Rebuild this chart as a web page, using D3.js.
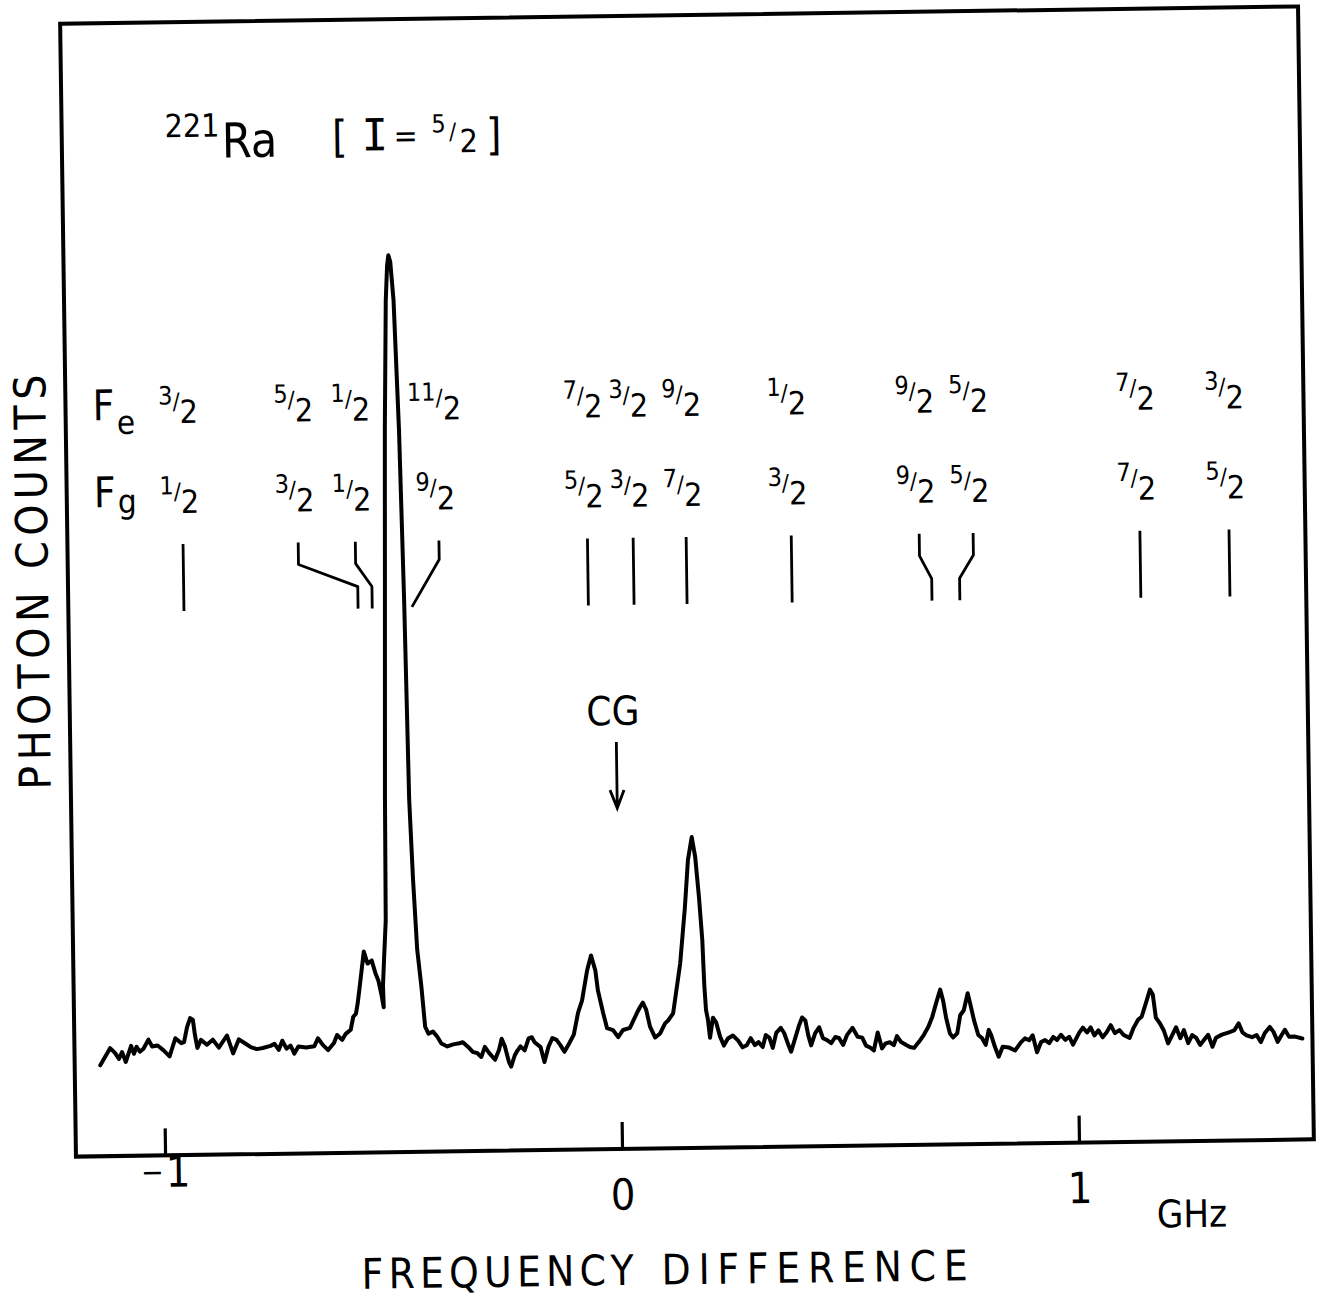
<!DOCTYPE html>
<html><head><meta charset="utf-8">
<script src="https://cdnjs.cloudflare.com/ajax/libs/d3/7.8.5/d3.min.js"></script>
<style>
html,body{margin:0;padding:0;background:#fff;}
svg{display:block;}
text{font-family:"DejaVu Sans Condensed","DejaVu Sans",sans-serif;font-stretch:condensed;fill:#000;}
</style></head><body>
<svg id="chart" width="1320" height="1299"></svg>
<script>
// ---- data ----
const freqGHz = [
-1.139,-1.117,-1.106,-1.098,-1.091,-1.083,-1.071,-1.065,-1.059,-1.052,
-1.044,-1.033,-1.025,-1.013,-1.000,-0.987,-0.974,-0.961,-0.955,-0.948,
-0.941,-0.935,-0.931,-0.926,-0.918,-0.905,-0.892,-0.879,-0.861,-0.853,
-0.848,-0.835,-0.822,-0.809,-0.796,-0.783,-0.766,-0.757,-0.748,-0.740,
-0.731,-0.722,-0.714,-0.705,-0.688,-0.670,-0.662,-0.651,-0.640,-0.627,
-0.620,-0.609,-0.601,-0.590,-0.584,-0.578,-0.574,-0.569,-0.559,-0.551,
-0.542,-0.534,-0.528,-0.521,-0.517,-0.518,-0.515,-0.510,-0.508,-0.502,
-0.497,-0.491,-0.487,-0.484,-0.480,-0.474,-0.466,-0.460,-0.455,-0.449,
-0.445,-0.442,-0.434,-0.427,-0.420,-0.410,-0.401,-0.392,-0.379,-0.366,
-0.353,-0.345,-0.333,-0.323,-0.314,-0.305,-0.297,-0.288,-0.275,-0.266,
-0.260,-0.253,-0.245,-0.240,-0.232,-0.227,-0.219,-0.210,-0.201,-0.194,
-0.188,-0.175,-0.167,-0.158,-0.149,-0.140,-0.132,-0.123,-0.114,-0.102,
-0.092,-0.083,-0.071,-0.062,-0.053,-0.048,-0.037,-0.029,-0.016,-0.005,
0.006,0.021,0.037,0.044,0.050,0.057,0.065,0.076,0.087,0.098,
0.105,0.116,0.133,0.145,0.153,0.162,0.169,0.176,0.182,0.185,
0.188,0.192,0.196,0.203,0.210,0.218,0.226,0.235,0.246,0.257,
0.267,0.276,0.285,0.294,0.302,0.311,0.318,0.326,0.333,0.341,
0.351,0.358,0.367,0.373,0.382,0.391,0.398,0.405,0.411,0.417,
0.426,0.435,0.443,0.452,0.461,0.470,0.478,0.487,0.496,0.508,
0.519,0.529,0.537,0.546,0.554,0.563,0.572,0.580,0.589,0.598,
0.605,0.614,0.625,0.633,0.642,0.653,0.664,0.674,0.683,0.692,
0.701,0.707,0.713,0.721,0.728,0.737,0.744,0.752,0.761,0.766,
0.774,0.783,0.791,0.799,0.806,0.811,0.819,0.827,0.836,0.850,
0.863,0.876,0.885,0.894,0.902,0.911,0.920,0.929,0.938,0.947,
0.955,0.964,0.973,0.982,0.990,1.004,1.012,1.021,1.029,1.037,
1.046,1.055,1.064,1.073,1.082,1.092,1.101,1.114,1.123,1.133,
1.141,1.151,1.160,1.166,1.172,1.181,1.189,1.198,1.207,1.216,
1.225,1.233,1.242,1.251,1.260,1.268,1.277,1.286,1.295,1.303,
1.316,1.330,1.343,1.353,1.361,1.370,1.382,1.392,1.401,1.410,
1.421,1.429,1.438,1.447,1.454,1.463,1.476,1.492];

const photonCounts = [
91,108,103,97,104,94,110,102,109,104,
107,116,109,110,105,99,117,112,113,128,
137,135,120,107,115,110,115,107,119,108,
101,115,111,107,105,106,108,110,104,113,
105,108,100,107,106,107,115,108,103,110,
118,113,119,123,136,139,149,166,201,189,
192,179,172,156,145,167,192,232,352,552,
722,852,887,897,890,852,722,552,352,272,
232,202,165,125,118,120,115,108,105,107,
108,109,104,99,98,94,104,98,91,101,
112,104,89,84,95,99,104,100,112,113,
108,103,88,103,112,110,105,98,105,115,
137,149,179,194,179,159,136,121,119,112,
119,121,136,142,146,139,122,111,115,125,
128,135,185,241,288,311,291,251,208,163,
138,128,110,130,125,111,102,109,112,107,
100,102,109,102,105,100,112,109,99,114,
119,114,102,95,108,121,129,126,111,101,
113,119,108,106,103,109,108,101,111,118,
109,108,100,98,95,113,97,102,103,100,
109,103,100,98,97,103,110,118,128,142,
155,144,127,111,107,111,129,134,151,141,
124,109,106,99,114,109,97,87,97,96,
93,101,105,103,108,91,101,103,100,106,
103,108,103,106,98,110,115,110,115,107,
112,105,110,117,109,112,107,104,114,122,
125,139,152,147,124,118,111,98,106,114,
103,111,98,106,103,96,101,106,94,103,
106,108,110,117,108,105,103,105,98,107,
113,108,98,105,110,103,103,101];

const xTickValues = [-1, 0, 1];
const xTickLabels = ["\u22121", "0", "1"];

const feLabels = ["3/2","5/2","1/2","11/2","7/2","3/2","9/2","1/2","9/2","5/2","7/2","3/2"];
const fgLabels = ["1/2","3/2","1/2","9/2","5/2","3/2","7/2","3/2","9/2","5/2","7/2","5/2"];
// label / top of marker (GHz) and position of the transition at the marker foot (GHz)
const markerTopGHz  = [-0.942,-0.690,-0.565,-0.382,-0.057,0.043,0.159,0.389,0.669,0.787,1.152,1.347];
const markerLineGHz = [-0.944,-0.561,-0.530,-0.443,-0.058,0.043,0.159,0.389,0.695,0.756,1.153,1.347];
const cgGHz = 0;

// ---- scales ----
const x = d3.scaleLinear().domain([-1.195, 1.514]).range([68, 1306]);
const y = d3.scaleLinear().domain([0, 1133]).range([1148, 15]);

const svg = d3.select("#chart");
svg.append("rect").attr("width",1320).attr("height",1299).attr("fill","#fff");
const root = svg.append("g").attr("transform", "rotate(-0.8 690 582)");

// frame
const [xL, xR] = x.range();
const [yB, yT] = y.range();
root.append("rect").attr("x", xL).attr("y", yT).attr("width", xR - xL).attr("height", yB - yT)
  .attr("fill", "none").attr("stroke", "#000").attr("stroke-width", 4);

// x axis
const xAxis = d3.axisBottom(x).tickValues(xTickValues).tickFormat((d, i) => xTickLabels[i])
  .tickSizeInner(-27).tickSizeOuter(0).tickPadding(30);
const ax = root.append("g").attr("transform", `translate(0,${y(0)})`).call(xAxis);
ax.select(".domain").remove();
ax.selectAll(".tick line").attr("stroke", "#000").attr("stroke-width", 3.2);
ax.selectAll(".tick text").attr("font-size", 43).attr("fill", "#000").each(function (d, i) {
  const s = xTickLabels[i];
  const t = d3.select(this);
  if (s.startsWith("\u2212")) {
    t.text(null);
    t.append("tspan").attr("font-size", 30).attr("dy", "-0.1em").text("\u2212");
    t.append("tspan").attr("dx", 2).attr("dy", "0.1em").text(s.slice(1));
  }
});

// spectrum
const line = d3.line().x((d, i) => x(freqGHz[i])).y((d, i) => y(photonCounts[i]));
root.append("path").datum(freqGHz).attr("d", line)
  .attr("fill", "none").attr("stroke", "#000").attr("stroke-width", 4)
  .attr("stroke-linejoin", "round").attr("stroke-linecap", "round");

// transition markers
const stickTop = 537, knee1 = 559, knee2 = 582, stickBot = 604;
markerTopGHz.forEach((t, i) => {
  const xt = x(t), xb = x(markerLineGHz[i]);
  let d;
  if (Math.abs(xt - xb) < 2) d = `M${xt},${stickTop}V${stickBot}`;
  else if (i === 3) d = `M${xt},${stickTop}V${knee1 - 3}L${xb},${stickBot - 1}`;
  else d = `M${xt},${stickTop}V${knee1}L${xb},${knee2}V${stickBot}`;
  root.append("path").attr("d", d).attr("fill", "none").attr("stroke", "#000")
    .attr("stroke-width", 2.8).attr("stroke-linejoin", "round");
});

function fraction(xc, base, label) {
  const [num, den] = label.split("/");
  const t = root.append("text").attr("x", xc).attr("y", base - 19).attr("text-anchor", "middle");
  t.append("tspan").attr("font-size", 25).text(num);
  t.append("tspan").attr("font-size", 23).attr("dy", 5).text("/");
  t.append("tspan").attr("font-size", 32).attr("dy", 14).text(den);
}
markerTopGHz.forEach((t, i) => {
  fraction(x(t) - 3, 416, feLabels[i]);
  fraction(x(t) - 3, 506, fgLabels[i]);
});

// F_e / F_g
root.append("text").attr("x", 95).attr("y", 412).attr("font-size", 42).text("F");
root.append("text").attr("x", 119).attr("y", 426).attr("font-size", 33).text("e");
root.append("text").attr("x", 95).attr("y", 499).attr("font-size", 42).text("F");
root.append("text").attr("x", 119).attr("y", 505).attr("font-size", 33).text("g");

// title
root.append("text").attr("x", 171).attr("y", 130).attr("font-size", 32).text("221");
root.append("text").attr("x", 228).attr("y", 151).attr("font-size", 48).text("Ra");
root.append("text").attr("x", 346).attr("y", 147).attr("font-size", 44).attr("text-anchor", "middle").text("[");
root.append("text").attr("x", 381).attr("y", 146).attr("font-size", 44).attr("text-anchor", "middle")
  .style("font-family", "'DejaVu Sans Mono', monospace").text("I");
root.append("text").attr("x", 412).attr("y", 143).attr("font-size", 32).attr("text-anchor", "middle").text("=");
root.append("text").attr("x", 445).attr("y", 129).attr("font-size", 25).attr("text-anchor", "middle").text("5");
root.append("text").attr("x", 459).attr("y", 136).attr("font-size", 23).attr("text-anchor", "middle").text("/");
root.append("text").attr("x", 475).attr("y", 149).attr("font-size", 32).attr("text-anchor", "middle").text("2");
root.append("text").attr("x", 500).attr("y", 147).attr("font-size", 44).attr("text-anchor", "middle").text("]");

// CG arrow
const xcg = x(cgGHz);
root.append("text").attr("x", xcg - 3).attr("y", 724).attr("font-size", 40).attr("text-anchor", "middle").text("CG");
root.append("path").attr("d", `M${xcg},741V807M${xcg - 7},789L${xcg},807L${xcg + 7},789`)
  .attr("fill", "none").attr("stroke", "#000").attr("stroke-width", 2.8);

// axis titles
root.append("text").attr("x", 1148).attr("y", 1234).attr("font-size", 38).text("GHz");
root.append("text").attr("x", 352).attr("y", 1284).attr("font-size", 42)
  .attr("textLength", 272).attr("lengthAdjust", "spacing").text("FREQUENCY");
root.append("text").attr("x", 652).attr("y", 1284).attr("font-size", 42)
  .attr("textLength", 306).attr("lengthAdjust", "spacing").text("DIFFERENCE");
root.append("text").attr("transform", "translate(48,573) rotate(-90)").attr("text-anchor", "middle")
  .attr("font-size", 44).attr("textLength", 415).attr("lengthAdjust", "spacing").text("PHOTON COUNTS");
</script>
</body></html>
